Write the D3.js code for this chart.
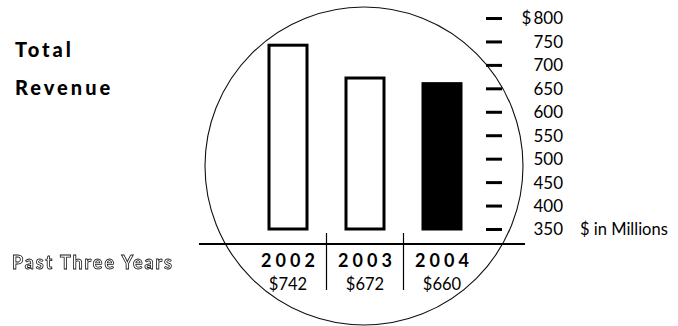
<!DOCTYPE html>
<html>
<head>
<meta charset="utf-8">
<script src="https://cdn.jsdelivr.net/npm/d3@7"></script>
<style>
  html, body { margin: 0; padding: 0; background: #fff; }
  svg { display: block; }
</style>
</head>
<body>
<svg id="chart" width="678" height="326"></svg>
<script>
// Total revenue, last three fiscal years ($ in millions)
const years = ["2002", "2003", "2004"];
const revenue = [742, 672, 660];
const revenueLabels = ["$742", "$672", "$660"];
const barFills = ["#fff", "#fff", "#000"];
const tickValues = [350, 400, 450, 500, 550, 600, 650, 700, 750, 800];

const svg = d3.select("#chart");
const font = "'Century Gothic', 'Lato', 'DejaVu Sans', sans-serif";

// grayscale filter keeps the outlined caption free of colour fringes
const defs = svg.append("defs");
defs.append("filter").attr("id", "gray")
  .append("feColorMatrix").attr("type", "saturate").attr("values", 0);

const y = d3.scaleLinear().domain([350, 800]).range([229, 18]);
const x = d3.scalePoint().domain(years).range([288, 442]);
const barW = 38;

// framing circle
svg.append("circle")
  .attr("cx", 364).attr("cy", 166).attr("r", 159)
  .attr("fill", "none").attr("stroke", "#111").attr("stroke-width", 1.1);

// bars
svg.selectAll("rect.bar")
  .data(years)
  .join("rect")
  .attr("class", "bar")
  .attr("x", d => x(d) - barW / 2)
  .attr("width", barW)
  .attr("y", (d, i) => y(revenue[i]))
  .attr("height", (d, i) => y(350) - y(revenue[i]))
  .attr("fill", (d, i) => barFills[i])
  .attr("stroke", "#000")
  .attr("stroke-width", 3);

// baseline
svg.append("line")
  .attr("x1", 199).attr("x2", 525)
  .attr("y1", 244).attr("y2", 244)
  .attr("stroke", "#000").attr("stroke-width", 2);

// dividers between years
const mids = [ (x(years[0]) + x(years[1])) / 2, (x(years[1]) + x(years[2])) / 2 ];
svg.selectAll("line.div")
  .data(mids)
  .join("line")
  .attr("class", "div")
  .attr("x1", d => d).attr("x2", d => d)
  .attr("y1", 233).attr("y2", 290)
  .attr("stroke", "#000").attr("stroke-width", 1.2);

// value axis on the right
const axis = d3.axisRight(y)
  .tickValues(tickValues)
  .tickSize(16)
  .tickPadding(0)
  .tickFormat(d => d === 800 ? "$\u2009800" : String(d));

const gAxis = svg.append("g")
  .attr("transform", "translate(486,0)")
  .call(axis);
gAxis.select(".domain").remove();
gAxis.selectAll(".tick line")
  .attr("stroke", "#000").attr("stroke-width", 3);
gAxis.selectAll(".tick text")
  .attr("x", 77)
  .attr("dy", "0.35em")
  .attr("text-anchor", "end")
  .attr("fill", "#000")
  .style("font-family", font)
  .style("font-size", "17px");

svg.append("text")
  .attr("x", 580).attr("y", 235)
  .style("font-family", font).style("font-size", "16.5px")
  .text("$ in Millions");

// year labels and values
svg.selectAll("text.year")
  .data(years)
  .join("text")
  .attr("class", "year")
  .attr("x", d => x(d) + 2)
  .attr("y", 267)
  .attr("text-anchor", "middle")
  .style("font-family", font)
  .style("font-size", "18px")
  .style("font-weight", "bold")
  .style("letter-spacing", "4px")
  .text(d => d);

svg.selectAll("text.val")
  .data(years)
  .join("text")
  .attr("class", "val")
  .attr("x", d => x(d))
  .attr("y", 290)
  .attr("text-anchor", "middle")
  .style("font-family", font)
  .style("font-size", "16.5px")
  .text((d, i) => revenueLabels[i]);

// title
svg.append("text")
  .attr("x", 15).attr("y", 57)
  .style("font-family", font).style("font-size", "20px")
  .style("font-weight", "900").style("letter-spacing", "3px")
  .text("Total");
svg.append("text")
  .attr("x", 15).attr("y", 95)
  .style("font-family", font).style("font-size", "20px")
  .style("font-weight", "900").style("letter-spacing", "3px")
  .text("Revenue");

svg.append("text")
  .attr("x", 12).attr("y", 269)
  .attr("filter", "url(#gray)")
  .style("font-family", font).style("font-size", "18px")
  .style("font-weight", "bold")
  .style("letter-spacing", "1.9px")
  .attr("fill", "#fff").attr("stroke", "#111").attr("stroke-width", 0.8)
  .text("Past Three Years");
</script>
</body>
</html>
